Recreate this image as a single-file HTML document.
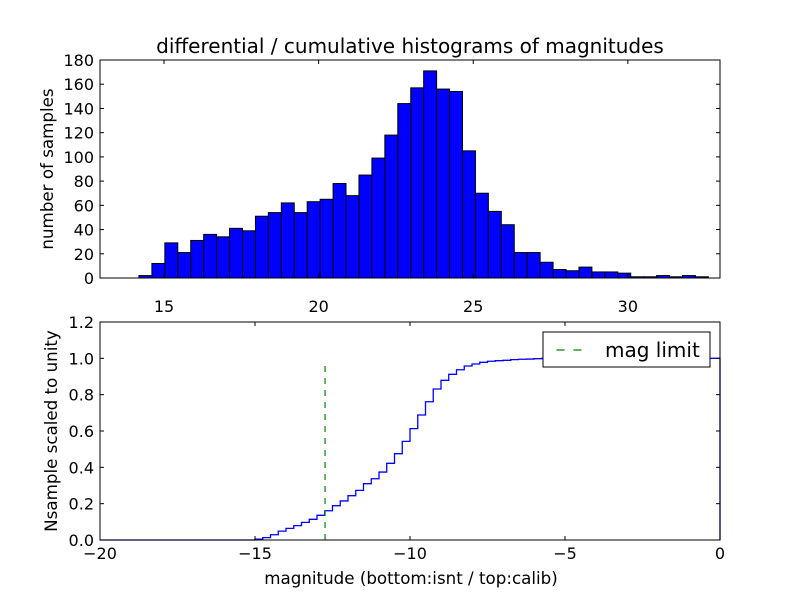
<!DOCTYPE html>
<html><head><meta charset="utf-8"><style>
body{margin:0;background:#fff}
svg{font-family:"DejaVu Sans","Liberation Sans",sans-serif}
</style></head><body>
<svg id="c" width="800" height="600" viewBox="0 0 800 600">
<rect width="800" height="600" fill="#fff"/>
<text x="410" y="53" font-size="20" text-anchor="middle">differential / cumulative histograms of magnitudes</text>
<g id="topg"></g>
<g id="botg"></g>
<text transform="translate(53,169) rotate(-90)" font-size="16.7" text-anchor="middle">number of samples</text>
<text transform="translate(57,431) rotate(-90)" font-size="16.7" text-anchor="middle">Nsample scaled to unity</text>
<text x="411" y="584" font-size="16.7" text-anchor="middle">magnitude (bottom:isnt / top:calib)</text>
<g>
<rect x="543" y="332" width="167" height="35" fill="#fff" stroke="#000" stroke-width="1"/>
<line x1="556.5" y1="350" x2="582" y2="350" stroke="#008000" stroke-width="1.2" stroke-dasharray="8,9"/>
<text x="605" y="357" font-size="20">mag limit</text>
</g>
</svg>
<script>
const histStart = 14.19;
const binWidth = 0.4185;
const counts = [2,12,29,21,31,36,34,41,39,51,54,62,54,63,65,78,68,85,99,118,144,157,171,156,154,105,70,55,44,21,21,13,7,6,9,5,5,4,1,1,2,1,2,1];
const topXTicks = [15,20,25,30];
const topYTicks = [0,20,40,60,80,100,120,140,160,180];
const cumStart = -15;
const cumStep = 0.25;
const cumValues = [0.005,0.013,0.029,0.049,0.064,0.079,0.097,0.114,0.136,0.161,0.189,0.215,0.244,0.273,0.31,0.337,0.374,0.422,0.475,0.543,0.613,0.688,0.761,0.831,0.879,0.912,0.937,0.958,0.969,0.978,0.984,0.987,0.989,0.993,0.995,0.996,0.998,1.0];
const magLimit = -12.74;
const magLimitHeight = 0.96;
const botXTicks = [-20,-15,-10,-5,0];
const botYTicks = [0.0,0.2,0.4,0.6,0.8,1.0,1.2];

const NS="http://www.w3.org/2000/svg";
function mk(p,t,a){const e=document.createElementNS(NS,t);for(const k in a)e.setAttribute(k,a[k]);p.appendChild(e);return e;}
const L=100,R=720;
const tx=v=>L+(v-12.93)/(32.98-12.93)*(R-L);
const ty=v=>278-(v/180)*218;
const topG=document.getElementById('topg');
counts.forEach((c,i)=>{const x0=tx(histStart+i*binWidth),x1=tx(histStart+(i+1)*binWidth);
 const r=mk(topG,'rect',{x:x0,y:ty(c),width:x1-x0,height:ty(0)-ty(c),fill:'#0000ff',stroke:'#000','stroke-width':1});
 
 });
mk(topG,'rect',{x:L,y:60,width:R-L,height:218,fill:'none',stroke:'#000','stroke-width':1});
topXTicks.forEach(v=>{const x=tx(v);mk(topG,'line',{x1:x,x2:x,y1:278,y2:274,stroke:'#000'});mk(topG,'line',{x1:x,x2:x,y1:60,y2:64,stroke:'#000'});
 const t=mk(topG,'text',{x:x,y:312,'font-size':16,'text-anchor':'middle'});t.textContent=v;
 
 });
topYTicks.forEach(v=>{const y=ty(v);mk(topG,'line',{x1:L,x2:L+4,y1:y,y2:y,stroke:'#000'});mk(topG,'line',{x1:R,x2:R-4,y1:y,y2:y,stroke:'#000'});
 const t=mk(topG,'text',{x:94,y:y+6,'font-size':16,'text-anchor':'end'});t.textContent=v;
 
 });
const bx=v=>L+(v+20)/20*(R-L);
const by=v=>540-v/1.2*218;
const botG=document.getElementById('botg');
let d=`M${bx(-20)},${by(0)} L${bx(cumStart)},${by(0)}`;
cumValues.forEach((v,i)=>{const x0=bx(cumStart+i*cumStep);const x1=i==cumValues.length-1?bx(0):bx(cumStart+(i+1)*cumStep);
 d+=` L${x0},${by(v)} L${x1},${by(v)}`;});
d+=` L${bx(0)},${by(0)}`;
const p=mk(botG,'path',{d:d,fill:'none',stroke:'#0000ff','stroke-width':1.3});


const ml=mk(botG,'line',{x1:bx(magLimit),x2:bx(magLimit),y1:by(0),y2:by(magLimitHeight),stroke:'#008000','stroke-width':1.2,'stroke-dasharray':'6,6'});


mk(botG,'rect',{x:L,y:322,width:R-L,height:218,fill:'none',stroke:'#000','stroke-width':1});
botXTicks.forEach(v=>{const x=bx(v);mk(botG,'line',{x1:x,x2:x,y1:540,y2:536,stroke:'#000'});mk(botG,'line',{x1:x,x2:x,y1:322,y2:326,stroke:'#000'});
 const t=mk(botG,'text',{x:x,y:559,'font-size':16,'text-anchor':'middle'});t.textContent=v==0?'0':'\u2212'+Math.abs(v);
 
 });
botYTicks.forEach(v=>{const y=by(v);mk(botG,'line',{x1:L,x2:L+4,y1:y,y2:y,stroke:'#000'});mk(botG,'line',{x1:R,x2:R-4,y1:y,y2:y,stroke:'#000'});
 const t=mk(botG,'text',{x:94,y:y+6,'font-size':16,'text-anchor':'end'});t.textContent=v.toFixed(1);
 
 });
</script>
</body></html>
